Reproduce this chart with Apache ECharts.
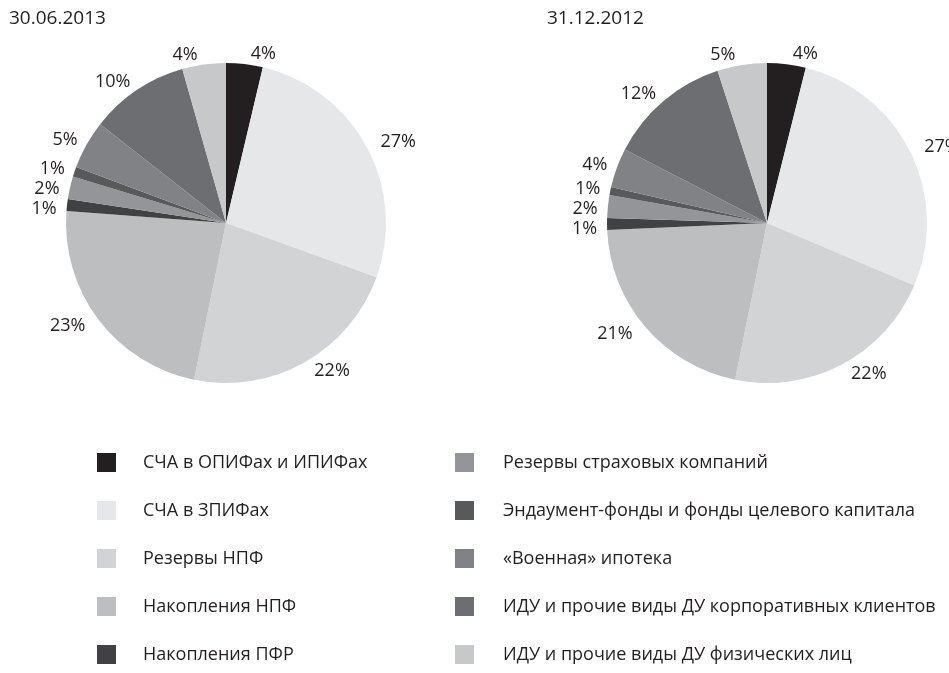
<!DOCTYPE html>
<html>
<head>
<meta charset="utf-8">
<script src="https://cdn.jsdelivr.net/npm/echarts@6/dist/echarts.min.js"></script>
<style>
  html, body { margin: 0; padding: 0; background: #fff; }
  #chart { width: 949px; height: 673px; }
</style>
</head>
<body>
<div id="chart"></div>
<script>
// категории
var categories = [
    'СЧА в ОПИФах и ИПИФах',
    'СЧА в ЗПИФах',
    'Резервы НПФ',
    'Накопления НПФ',
    'Накопления ПФР',
    'Резервы страховых компаний',
    'Эндаумент-фонды и фонды целевого капитала',
    '«Военная» ипотека',
    'ИДУ и прочие виды ДУ корпоративных клиентов',
    'ИДУ и прочие виды ДУ физических лиц'
];
var colors = ['#231f20', '#e6e7e8', '#d1d3d4', '#bcbec0', '#414042',
              '#939598', '#58595b', '#808285', '#6d6e71', '#c7c8ca'];

var dates = ['30.06.2013', '31.12.2012'];
// доли, %
var values2013 = [3.7, 26.8, 22.7, 23.0, 1.2, 2.3, 1.0, 4.9, 10.0, 4.4];
var values2012 = [3.9, 27.5, 21.8, 21.1, 1.2, 2.3, 0.8, 4.0, 12.4, 5.0];
// подписи как в отчете
var labels2013 = ['4%', '27%', '22%', '23%', '1%', '2%', '1%', '5%', '10%', '4%'];
var labels2012 = ['4%', '27%', '22%', '21%', '1%', '2%', '1%', '4%', '12%', '5%'];

var font = '"Open Sans", "DejaVu Sans", sans-serif';
var myChart = echarts.init(document.getElementById('chart'));

function makePie(vals, labs, cx) {
    return {
        type: 'pie',
        center: [cx, 223],
        radius: 160,
        startAngle: 90,
        clockwise: true,
        avoidLabelOverlap: true,
        minShowLabelAngle: 0,
        itemStyle: { borderWidth: 0 },
        emphasis: { disabled: true },
        label: {
            show: true,
            position: 'outside',
            fontFamily: font,
            fontSize: 18,
            color: '#231f20',
            overflow: 'none',
            formatter: function (p) { return labs[p.dataIndex]; }
        },
        labelLine: { show: false, length: 10, length2: 0 },
        data: categories.map(function (c, i) {
            return { name: c, value: vals[i] };
        })
    };
}

var legendText = { fontFamily: font, fontSize: 18, color: '#231f20' };

var option = {
    animation: false,
    color: colors,
    title: [
        { text: dates[0], left: 9, top: 9, padding: 0, textStyle: { fontFamily: font, fontSize: 19, fontWeight: 'normal', color: '#231f20' } },
        { text: dates[1], left: 547, top: 9, padding: 0, textStyle: { fontFamily: font, fontSize: 19, fontWeight: 'normal', color: '#231f20' } }
    ],
    legend: [
        {
            orient: 'vertical', left: 97, top: 453, height: 230, padding: 0,
            itemWidth: 19, itemHeight: 19, itemGap: 29,
            icon: 'rect', selectedMode: false,
            textStyle: Object.assign({ padding: [0, 0, 0, 22] }, legendText),
            data: categories.slice(0, 5)
        },
        {
            orient: 'vertical', left: 455, top: 453, height: 230, padding: 0,
            itemWidth: 19, itemHeight: 19, itemGap: 29,
            icon: 'rect', selectedMode: false,
            textStyle: Object.assign({ padding: [0, 0, 0, 24] }, legendText),
            data: categories.slice(5)
        }
    ],
    series: [
        makePie(values2013, labels2013, 226),
        makePie(values2012, labels2012, 767)
    ]
};
myChart.setOption(option);
</script>
</body>
</html>
